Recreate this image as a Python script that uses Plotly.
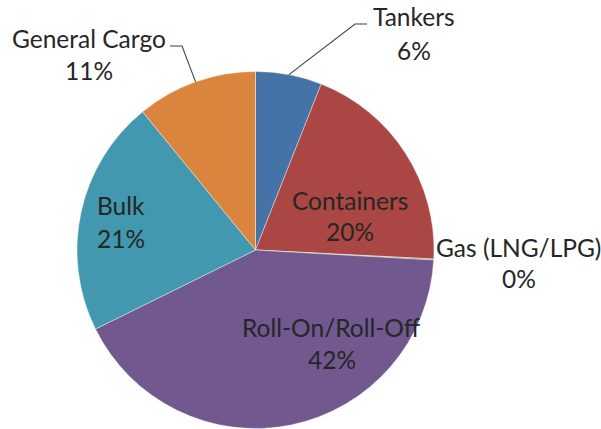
import math
import plotly.graph_objects as go

# ---- data ----
categories = ["Tankers", "Containers", "Gas (LNG/LPG)", "Roll-On/Roll-Off", "Bulk", "General Cargo"]
values = [6.0, 19.8, 0.1, 41.8, 21.4, 10.9]
colors = ["#4572A7", "#AA4643", "#89A54E", "#71588F", "#4198AF", "#DB843D"]

W, H = 601, 429
CX, CY, R = 255.5, 250.0, 178.5  # pie centre / radius in pixels

fig = go.Figure(go.Pie(
    labels=categories,
    values=values,
    sort=False,
    direction="clockwise",
    rotation=0,
    marker=dict(colors=colors, line=dict(color="white", width=0.4)),
    textinfo="none",
    hoverinfo="label+percent",
    showlegend=False,
    domain=dict(x=[(CX - R) / W, (CX + R) / W], y=[1 - (CY + R) / H, 1 - (CY - R) / H]),
))

total = sum(values)
pcts = {c: f"{round(v / total * 100):d}%" for c, v in zip(categories, values)}

FONT = dict(family="Lato, Open Sans, sans-serif", size=24.5, color="#262626")

# label positions (pixel centres) for name / percent lines
label_pos = {
    "Tankers": ((414, 16.5), (413.5, 50.5)),
    "Containers": ((349.5, 200), (350, 231)),
    "Gas (LNG/LPG)": ((518.5, 246.5), (519, 278)),
    "Roll-On/Roll-Off": ((331, 327), (331.5, 358.5)),
    "Bulk": ((120.5, 205), (121.5, 237.5)),
    "General Cargo": ((88.5, 38), (88.5, 70)),
}

def px(x, y):
    return x / W, 1 - y / H

annotations = []
for c in categories:
    (nx, ny), (qx, qy) = label_pos[c]
    for text, (x, y) in ((c, (nx, ny)), (pcts[c], (qx, qy))):
        ax_, ay_ = px(x, y + 0.5)
        annotations.append(dict(x=ax_, y=ay_, xref="paper", yref="paper", text=text,
                                showarrow=False, font=FONT, xanchor="center", yanchor="middle"))

# leader lines from slice mid-angle on the rim
cum = 0
mid = {}
for c, v in zip(categories, values):
    mid[c] = (cum + v / 2) / total * 2 * math.pi
    cum += v

def rim(c):
    a = mid[c]
    return CX + R * math.sin(a), CY - R * math.cos(a)

shapes = []
leader = {
    "Tankers": [(355, 24), (367, 24)],
    "General Cargo": [(182, 46), (170, 46)],
}
for c, pts in leader.items():
    x0, y0 = rim(c)
    path_pts = [(x0, y0)] + pts
    d = "M " + " L ".join(f"{x / W:.5f},{1 - y / H:.5f}" for x, y in path_pts)
    shapes.append(dict(type="path", path=d, xref="paper", yref="paper",
                       line=dict(color="#404040", width=1.1)))

fig.update_layout(
    width=W, height=H,
    margin=dict(l=0, r=0, t=0, b=0),
    paper_bgcolor="white", plot_bgcolor="white",
    annotations=annotations,
    shapes=shapes,
)

fig.write_html("out.html", config={"displayModeBar": False},
               post_script="document.body.style.margin='0';document.body.style.overflow='hidden';")
